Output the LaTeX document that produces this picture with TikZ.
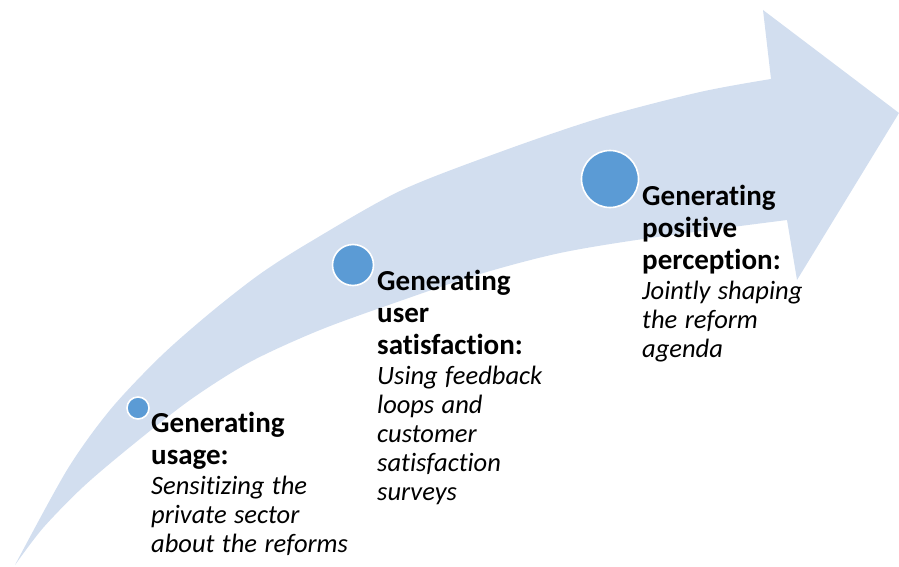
\documentclass[tikz,border=0pt]{standalone}
\usepackage{fontspec}
\setmainfont{Carlito}[Ligatures=NoCommon]
\usepackage{xcolor}
\usetikzlibrary{positioning}
\definecolor{band}{HTML}{D2DEEF}
\definecolor{dotc}{HTML}{5B9BD5}
\setlength{\parindent}{0pt}
\tikzset{
  stage/.style={circle, fill=dotc, draw=white, line width=1.6pt, inner sep=0pt, minimum size=#1},
  stagetext/.style={anchor=base west, inner sep=0pt, text width=#1, align=left},
  stagetext/.default=240pt,
}
\newcommand{\stagehead}[1]{{\fontsize{29}{32}\selectfont\bfseries #1\par}}
\newcommand{\stagebody}[1]{{\fontsize{26.5}{29}\selectfont\itshape\spaceskip=0.28em\vspace*{1pt}#1\par}}

\begin{document}
\begin{tikzpicture}[x=1pt, y=-1pt]
  \useasboundingbox (0,0) rectangle (899,567);

  % --- curved band
  \fill[band] plot[smooth] coordinates {(15,565) (67,470) (110,410) (160,357) (210,313)
      (260,274) (310,242) (400,191) (500,152) (600,118) (700,92) (771,79)}
    -- (763,10) -- (899,113) -- (797,280) -- (787,220)
    -- plot[smooth] coordinates {(787,220) (650,238) (560,253) (480,274) (400,301)
      (320,330) (250,362) (190,400) (130,447) (83,487) (43,528) (15,565)}
    -- cycle;

  % --- stages
  \node[stage=22pt] (c1) at (138,408) {};
  \node[stage=41pt] (c2) at (353,265) {};
  \node[stage=57pt] (c3) at (610,179) {};

  \node[stagetext] (t1) at (151,432) {\stagehead{Generating\\usage:}%
    \stagebody{Sensitizing the\\private sector\\about the reforms}};
  \node[stagetext] (t2) at (377,290) {\stagehead{Generating\\user\\satisfaction:}%
    \stagebody{Using feedback\\loops and\\customer\\satisfaction\\surveys}};
  \node[stagetext] (t3) at (642,205) {\stagehead{Generating\\positive\\perception:}%
    \stagebody{Jointly shaping\\the reform\\agenda}};
\end{tikzpicture}
\end{document}
